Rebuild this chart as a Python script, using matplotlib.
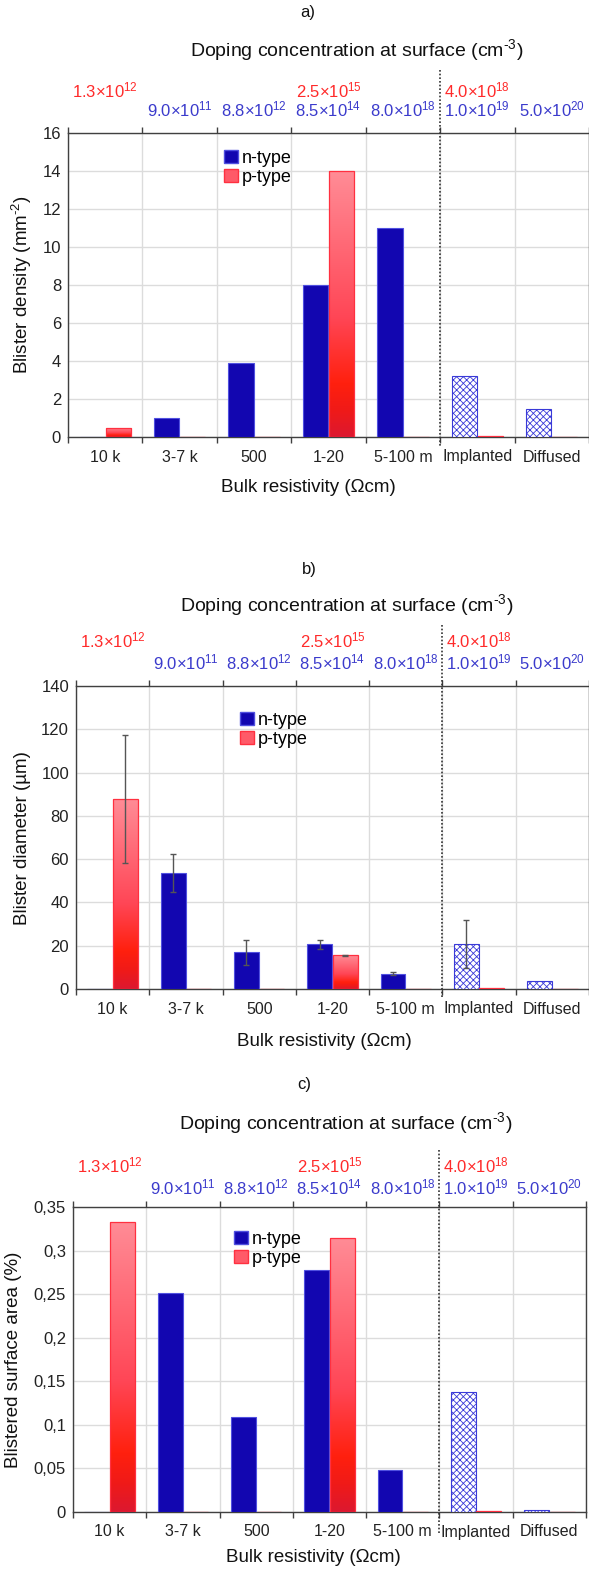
import numpy as np
import matplotlib
matplotlib.use('Agg')
import matplotlib.pyplot as plt
import matplotlib.transforms as mtransforms
from matplotlib.colors import LinearSegmentedColormap
from matplotlib.patches import Patch

nan = np.nan

# ---------------- data ----------------
categories = ['10 k', '3-7 k', '500', '1-20', '5-100 m', 'Implanted', 'Diffused']
hatched = [False, False, False, False, False, True, True]
red_conc = ['1.3×10^12', '', '', '2.5×10^15', '', '4.0×10^18', '']
blue_conc = ['', '9.0×10^11', '8.8×10^12', '8.5×10^14', '8.0×10^18', '1.0×10^19', '5.0×10^20']

density_n = [0, 1.0, 3.9, 8.0, 11.0, 3.2, 1.5]
density_p = [0.5, 0, 0, 14.0, 0, 0.05, 0]
density_ticks = [0, 2, 4, 6, 8, 10, 12, 14, 16]
density_ticklabels = ['0', '2', '4', '6', '8', '10', '12', '14', '16']

diameter_n = [0, 53.6, 16.9, 20.7, 7.1, 20.8, 3.6]
diameter_n_err = [nan, 9.0, 5.7, 2.0, 0.8, 11.0, nan]
diameter_p = [87.7, 0, 0, 15.5, 0, 0.3, 0]
diameter_p_err = [29.7, nan, nan, 0.2, nan, nan, nan]
diameter_ticks = [0, 20, 40, 60, 80, 100, 120, 140]
diameter_ticklabels = ['0', '20', '40', '60', '80', '100', '120', '140']

area_n = [0, 0.251, 0.109, 0.278, 0.048, 0.138, 0.002]
area_p = [0.333, 0, 0, 0.315, 0, 0.001, 0]
area_ticks = [0, 0.05, 0.1, 0.15, 0.2, 0.25, 0.3, 0.35]
area_ticklabels = ['0', '0,05', '0,1', '0,15', '0,2', '0,25', '0,3', '0,35']

# ---------------- style ----------------
plt.rcParams['font.family'] = ['Liberation Sans', 'DejaVu Sans']
plt.rcParams['mathtext.fontset'] = 'custom'
plt.rcParams['mathtext.rm'] = 'Liberation Sans'
plt.rcParams['mathtext.it'] = 'Liberation Sans:italic'
plt.rcParams['mathtext.bf'] = 'Liberation Sans:bold'
plt.rcParams['hatch.color'] = '#3a3ad8'
plt.rcParams['hatch.linewidth'] = 0.6

W, H = 589, 1570
NAVY = '#1206b0'
NAVY_EDGE = '#5050e0'
RED_EDGE = '#ff3040'
RED_TXT = '#ff2a2a'
BLUE_TXT = '#3b3bcc'
GRID = '#dcdcdc'
SPINE = '#404040'

pink_cmap = LinearSegmentedColormap.from_list(
    'pgrad', [(0.0, '#dc1830'), (0.10, '#f01a18'), (0.2, '#ff200e'),
              (0.45, '#ff4656'), (1.0, '#ff8c96')])

fig = plt.figure(figsize=(W / 100, H / 100), dpi=100)


def fx(px):
    return px / W


def fy(py):
    return 1 - py / H


def conc_text(s):
    m, e = s.split('^')
    return m + r'$^{\mathrm{' + e + '}}$'


panels = [
    dict(n=density_n, p=density_p, n_err=None, p_err=None,
         ticks=density_ticks, ticklabels=density_ticklabels,
         ylabel=r'Blister density (mm$^{\text{-2}}$)',
         box=(68, 133, 589, 437), lab='a)', lab_xy=(308, 13), title_xy=(357, 50),
         red_y=90, blue_y=109, xlabel_xy=(308, 488), ylabel_xy=(22, 285),
         dot=(70, 447), leg=(224, 150)),
    dict(n=diameter_n, p=diameter_p, n_err=diameter_n_err, p_err=diameter_p_err,
         ticks=diameter_ticks, ticklabels=diameter_ticklabels,
         ylabel='Blister diameter (µm)',
         box=(76, 686, 589, 989), lab='b)', lab_xy=(309, 570), title_xy=(347, 605),
         red_y=640, blue_y=662, xlabel_xy=(324, 1042), ylabel_xy=(23, 838),
         dot=(625, 997), leg=(240, 712)),
    dict(n=area_n, p=area_p, n_err=None, p_err=None,
         ticks=area_ticks, ticklabels=area_ticklabels,
         ylabel='Blistered surface area (%)',
         box=(73, 1207, 586, 1512), lab='c)', lab_xy=(304, 1085), title_xy=(346, 1123),
         red_y=1165, blue_y=1187, xlabel_xy=(313, 1558), ylabel_xy=(14, 1360),
         dot=(1150, 1533), leg=(234, 1231)),
]

x = np.arange(len(categories))
bw = 0.34
off = 0.175

for P in panels:
    l, t, r, b = P['box']
    ax = fig.add_axes([fx(l), fy(b), fx(r) - fx(l), fy(t) - fy(b)])
    ymax = P['ticks'][-1]

    nb = ax.bar(x - off, P['n'], width=bw, color=NAVY, edgecolor=NAVY_EDGE,
                linewidth=0.8, zorder=3)
    for rect, hflag in zip(nb, hatched):
        if hflag:
            rect.set_facecolor('white')
            rect.set_hatch('xxxxx')
            rect.set_edgecolor('#3a3ad8')

    pb = ax.bar(x + off, P['p'], width=bw, facecolor='none', edgecolor=RED_EDGE,
                linewidth=0.9, zorder=3)
    grad = np.linspace(0, 1, 256).reshape(-1, 1)
    for rect in pb:
        h = rect.get_height()
        if h <= 0:
            continue
        x0 = rect.get_x()
        im = ax.imshow(grad, extent=(x0, x0 + rect.get_width(), 0, h), origin='lower',
                       cmap=pink_cmap, aspect='auto', zorder=2.9, interpolation='bilinear')
        im.set_clip_path(rect)

    if P['n_err'] is not None:
        ax.errorbar(x - off, P['n'], yerr=P['n_err'], fmt='none', ecolor='#555555',
                    elinewidth=1, capsize=2, capthick=1, zorder=4)
        ax.errorbar(x + off, P['p'], yerr=P['p_err'], fmt='none', ecolor='#555555',
                    elinewidth=1, capsize=2, capthick=1, zorder=4)

    ax.set_xlim(-0.5, len(categories) - 0.5)
    ax.set_ylim(0, ymax)
    ax.set_yticks(P['ticks'])
    ax.set_yticklabels(P['ticklabels'])
    ax.set_xticks(x)
    ax.set_xticklabels(categories)
    ax.set_xticks(np.arange(-0.5, len(categories)), minor=True)
    ax.tick_params(axis='x', which='major', length=0, pad=9, labelsize=11.5, colors='#222222')
    ax.tick_params(axis='x', which='minor', length=4, direction='out', top=True,
                   bottom=True, color=SPINE, width=1)
    ax.tick_params(axis='y', length=0, pad=5, labelsize=12, colors='#222222')
    ax.set_axisbelow(True)
    ax.yaxis.grid(True, color=GRID, lw=1)
    ax.xaxis.grid(True, which='minor', color=GRID, lw=1)
    for sp in ax.spines.values():
        sp.set_color(SPINE)
        sp.set_linewidth(1)

    # dotted separator
    tr = mtransforms.blended_transform_factory(ax.transData, fig.transFigure)
    ax.plot([4.5, 4.5], [fy(P['dot'][0]), fy(P['dot'][1])], transform=tr,
            clip_on=False, color='#333333', lw=1.2, ls=(0, (1, 1.2)), zorder=5)

    # concentration labels
    for i, (rc, bc) in enumerate(zip(red_conc, blue_conc)):
        if rc:
            ax.text(i, fy(P['red_y']), conc_text(rc), transform=tr, ha='center',
                    va='center', color=RED_TXT, fontsize=12)
        if bc:
            ax.text(i, fy(P['blue_y']), conc_text(bc), transform=tr, ha='center',
                    va='center', color=BLUE_TXT, fontsize=12)

    fig.text(fx(P['title_xy'][0]), fy(P['title_xy'][1]),
             r'Doping concentration at surface (cm$^{\text{-3}}$)',
             ha='center', va='center', fontsize=14, color='#111111')
    fig.text(fx(P['lab_xy'][0]), fy(P['lab_xy'][1]), P['lab'], ha='center',
             va='center', fontsize=12, color='#111111')
    fig.text(fx(P['xlabel_xy'][0]), fy(P['xlabel_xy'][1]), 'Bulk resistivity (Ωcm)',
             ha='center', va='center', fontsize=13.5, color='#111111')
    fig.text(fx(P['ylabel_xy'][0]), fy(P['ylabel_xy'][1]), P['ylabel'], ha='center',
             va='center', rotation=90, fontsize=13.5, color='#111111')

    handles = [Patch(facecolor=NAVY, edgecolor=NAVY_EDGE),
               Patch(facecolor='#ff5a68', edgecolor=RED_EDGE)]
    ax.legend(handles, ['n-type', 'p-type'], loc='upper left',
              bbox_to_anchor=(fx(P['leg'][0]), fy(P['leg'][1])),
              bbox_transform=fig.transFigure, frameon=False, fontsize=13,
              handlelength=0.75, handleheight=0.75, handletextpad=0.25,
              labelspacing=0.1, borderpad=0, borderaxespad=0)

fig.savefig('out.png', dpi=100)
